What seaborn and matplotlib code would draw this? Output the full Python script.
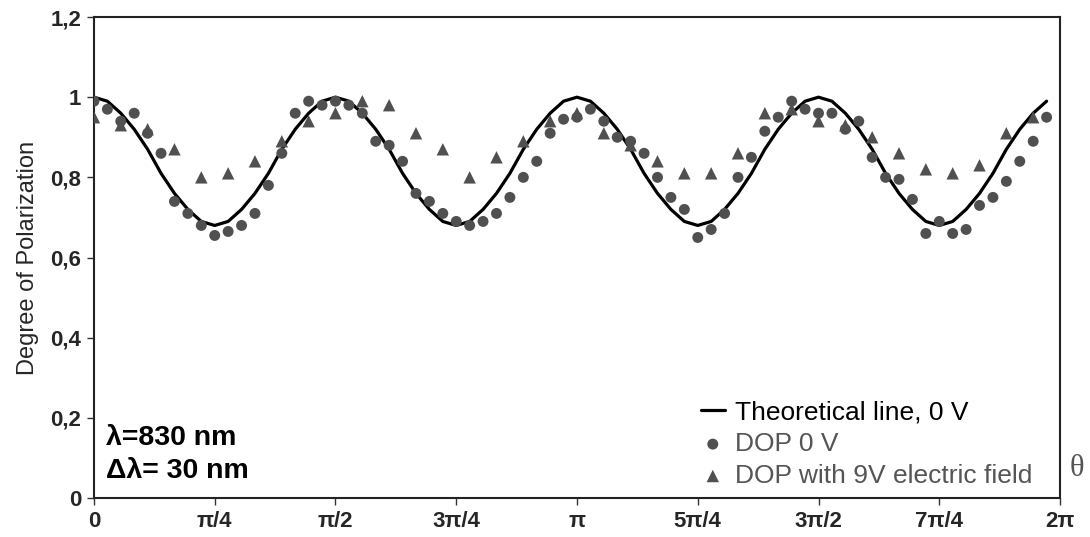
import numpy as np
import pandas as pd
import matplotlib
matplotlib.use("Agg")
import matplotlib.pyplot as plt
import seaborn as sns

# Sample angles (degrees): theory and DOP 0 V every 5°, DOP 9 V every 10°
angles_fine_deg = np.arange(0, 360, 5)
angles_coarse_deg = np.arange(0, 360, 10)

theory_0v = [
    1.00, 0.99, 0.96, 0.92, 0.87, 0.81, 0.76, 0.72, 0.69, 0.68, 0.69, 0.72, 0.76, 0.81, 0.87, 0.92, 0.96, 0.99,
    1.00, 0.99, 0.96, 0.92, 0.87, 0.81, 0.76, 0.72, 0.69, 0.68, 0.69, 0.72, 0.76, 0.81, 0.87, 0.92, 0.96, 0.99,
    1.00, 0.99, 0.96, 0.92, 0.87, 0.81, 0.76, 0.72, 0.69, 0.68, 0.69, 0.72, 0.76, 0.81, 0.87, 0.92, 0.96, 0.99,
    1.00, 0.99, 0.96, 0.92, 0.87, 0.81, 0.76, 0.72, 0.69, 0.68, 0.69, 0.72, 0.76, 0.81, 0.87, 0.92, 0.96, 0.99,
]

dop_0v = [
    0.99, 0.97, 0.94, 0.96, 0.91, 0.86, 0.74, 0.71, 0.68, 0.655, 0.665, 0.68, 0.71, 0.78, 0.86, 0.96, 0.99, 0.98,
    0.99, 0.98, 0.96, 0.89, 0.88, 0.84, 0.76, 0.74, 0.71, 0.69, 0.68, 0.69, 0.71, 0.75, 0.80, 0.84, 0.91, 0.945,
    0.95, 0.97, 0.94, 0.90, 0.89, 0.86, 0.80, 0.75, 0.72, 0.65, 0.67, 0.71, 0.80, 0.85, 0.915, 0.95, 0.99, 0.97,
    0.96, 0.96, 0.92, 0.94, 0.85, 0.80, 0.795, 0.745, 0.66, 0.69, 0.66, 0.67, 0.73, 0.75, 0.79, 0.84, 0.89, 0.95,
]

dop_9v = [
    0.95, 0.93, 0.92, 0.87, 0.80, 0.81, 0.84, 0.89, 0.94,
    0.96, 0.99, 0.98, 0.91, 0.87, 0.80, 0.85, 0.89, 0.94,
    0.96, 0.91, 0.88, 0.84, 0.81, 0.81, 0.86, 0.96, 0.97,
    0.94, 0.93, 0.90, 0.86, 0.82, 0.81, 0.83, 0.91, 0.95,
]

tick_labels = ["0", "π/4", "π/2", "3π/4", "π", "5π/4", "3π/2", "7π/4", "2π"]
y_tick_labels = ["0", "0,2", "0,4", "0,6", "0,8", "1", "1,2"]

df_fine = pd.DataFrame({
    "theta": np.deg2rad(angles_fine_deg),
    "theory": theory_0v,
    "dop0": dop_0v,
})
df_coarse = pd.DataFrame({
    "theta": np.deg2rad(angles_coarse_deg),
    "dop9": dop_9v,
})

sns.set_theme(style="white")
plt.rcParams["font.family"] = ["Liberation Sans", "DejaVu Sans"]

fig = plt.figure(figsize=(10.9, 5.37), dpi=100)
ax = fig.add_axes([0.0862, 0.0726, 0.8863, 0.8957])

marker_color = "#505050"

sns.lineplot(data=df_fine, x="theta", y="theory", ax=ax, color="black",
             linewidth=2.3, label="Theoretical line, 0 V", zorder=3)
sns.scatterplot(data=df_fine, x="theta", y="dop0", ax=ax, color=marker_color,
                marker="o", s=62, edgecolor="none", label="DOP 0 V", zorder=4)
sns.scatterplot(data=df_coarse, x="theta", y="dop9", ax=ax, color=marker_color,
                marker="^", s=80, edgecolor="none", label="DOP with 9V electric field", zorder=4)

ax.set_xlim(0, 2 * np.pi)
ax.set_ylim(0, 1.2)
ax.set_xticks(np.arange(9) * np.pi / 4)
ax.set_xticklabels(tick_labels, fontsize=16, fontweight="bold")
ax.set_yticks(np.arange(7) * 0.2)
ax.set_yticklabels(y_tick_labels, fontsize=16, fontweight="bold")
ax.tick_params(axis="both", which="major", direction="out", length=5, width=1,
               color="#333333", pad=4, left=True, bottom=True)
ax.set_xlabel("")
ax.set_ylabel("Degree of Polarization", fontsize=17, labelpad=8)

for side in ["left", "bottom", "top", "right"]:
    ax.spines[side].set_visible(True)
    ax.spines[side].set_color("#222222")
    ax.spines[side].set_linewidth(1.5)

ax.text(0.012, 0.124, "λ=830 nm", transform=ax.transAxes, fontsize=20.5,
        fontweight="bold", ha="left", va="center", color="black")
ax.text(0.012, 0.056, "Δλ= 30 nm", transform=ax.transAxes, fontsize=20.5,
        fontweight="bold", ha="left", va="center", color="black")

fig.text(0.995, 0.128, "θ", fontsize=22, family="Liberation Serif",
         ha="right", va="center", color="#555555")

leg = ax.legend(loc="lower right", bbox_to_anchor=(0.988, -0.012), frameon=False,
                fontsize=19, handlelength=0.9, handletextpad=0.4,
                labelspacing=0.3, borderaxespad=0.2)
for txt, col in zip(leg.get_texts(), ["black", "#555555", "#555555"]):
    txt.set_color(col)

fig.savefig("out.png", dpi=100)
